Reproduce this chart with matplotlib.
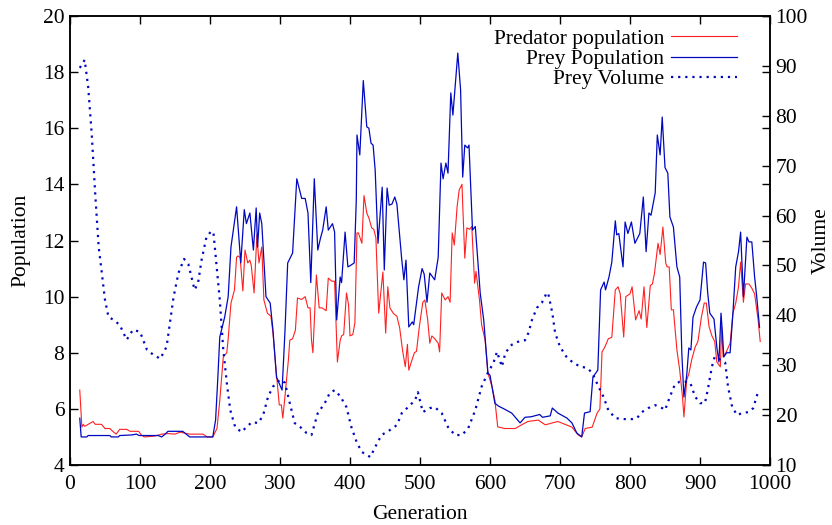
import numpy as np
import matplotlib.pyplot as plt

plt.rcParams['font.family'] = ['Liberation Serif', 'DejaVu Serif']
fs = 15.5

# predator population (left axis)
pred_gen = [14, 17, 19, 21, 24, 33, 36, 45, 50, 57, 61, 66, 71, 81, 86, 98, 102, 106, 121, 131, 140, 150, 157,
            171, 174, 190, 196, 204, 210, 214, 219, 224, 226, 230, 235, 238, 240, 243, 247, 250, 254, 257, 259,
            263, 267, 270, 274, 277, 282, 287, 290, 294, 299, 302, 304, 308, 312, 314, 318, 322, 325, 331, 336,
            340, 343, 345, 347, 352, 356, 360, 363, 366, 369, 374, 378, 380, 382, 386, 388, 391, 395, 398, 400,
            404, 407, 410, 412, 417, 420, 424, 427, 431, 434, 437, 441, 447, 451, 454, 457, 462, 467, 471, 475,
            479, 482, 484, 488, 492, 495, 499, 504, 507, 511, 514, 517, 521, 526, 528, 531, 536, 540, 543, 546,
            549, 553, 556, 560, 561, 564, 567, 571, 574, 578, 580, 585, 588, 593, 597, 603, 607, 611, 621, 636,
            643, 654, 669, 679, 689, 697, 707, 717, 726, 731, 736, 746, 753, 757, 760, 764, 769, 774, 779, 783,
            786, 791, 794, 800, 803, 808, 813, 816, 820, 824, 829, 832, 835, 840, 843, 847, 851, 853, 856, 859,
            862, 867, 871, 875, 877, 881, 884, 888, 893, 897, 902, 906, 909, 913, 917, 921, 924, 929, 931, 933,
            937, 943, 947, 951, 955, 958, 962, 965, 970, 974, 978, 983, 986]
pred_pop = [6.67, 5.35, 5.45, 5.38, 5.42, 5.55, 5.45, 5.45, 5.3, 5.3, 5.2, 5.1, 5.27, 5.27, 5.2, 5.2, 5.07, 5.0,
            5.03, 5.1, 5.12, 5.1, 5.17, 5.1, 5.1, 5.1, 5.0, 5.0, 5.3, 6.3, 7.85, 8.0, 8.5, 9.77, 10.24, 11.4,
            11.45, 11.4, 10.2, 11.66, 11.2, 11.3, 11.1, 10.13, 12.2, 11.2, 11.77, 9.88, 9.41, 9.3, 8.7, 7.5,
            6.14, 6.14, 5.67, 6.67, 7.74, 8.45, 8.5, 8.8, 9.95, 9.9, 10.0, 9.6, 9.6, 8.45, 8.0, 10.77, 9.6, 9.6,
            9.55, 9.5, 10.66, 10.55, 10.55, 9.06, 7.67, 8.45, 8.6, 8.65, 10.13, 9.7, 8.6, 8.65, 9.06, 12.27,
            12.27, 11.9, 13.6, 12.98, 12.8, 12.45, 12.4, 12.1, 9.41, 10.88, 8.7, 10.35, 9.6, 9.4, 9.3, 8.88,
            8.1, 7.5, 8.3, 7.38, 7.7, 8.0, 8.05, 8.92, 9.8, 9.88, 9.17, 8.34, 8.6, 8.5, 8.34, 8.03, 10.13, 9.88,
            10.0, 9.8, 12.27, 11.84, 13.2, 13.8, 14.0, 13.3, 11.37, 12.45, 12.4, 12.5, 10.48, 10.9, 9.88, 9.0,
            8.45, 7.28, 6.78, 6.3, 5.36, 5.3, 5.3, 5.4, 5.55, 5.6, 5.43, 5.5, 5.55, 5.45, 5.35, 5.07, 5.0, 5.3,
            5.35, 5.85, 6.0, 8.03, 8.2, 8.5, 8.55, 10.24, 10.35, 10.1, 8.56, 10.0, 10.1, 10.35, 9.17, 9.5, 9.2,
            10.35, 8.9, 10.4, 10.45, 10.84, 11.9, 11.5, 12.48, 11.2, 11.06, 11.06, 9.53, 9.53, 8.1, 7.38, 6.42,
            5.71, 7.03, 7.24, 7.74, 8.2, 8.4, 9.27, 9.77, 9.77, 8.92, 8.6, 8.4, 7.67, 7.5, 8.92, 7.85, 8.0, 8.34,
            9.41, 9.77, 10.35, 11.23, 9.8, 10.45, 10.45, 10.3, 10.1, 9.17, 8.4]

# prey population (left axis)
prey_gen = [14, 16, 24, 26, 57, 59, 69, 71, 88, 95, 99, 126, 131, 136, 140, 161, 166, 171, 204, 208, 211, 214,
            221, 226, 230, 238, 244, 249, 252, 257, 262, 266, 268, 271, 274, 280, 286, 290, 295, 303, 307, 311,
            318, 324, 331, 336, 340, 344, 349, 354, 358, 361, 366, 369, 375, 378, 381, 386, 388, 393, 397, 400,
            406, 409, 410, 414, 419, 424, 427, 430, 433, 436, 440, 446, 449, 453, 456, 460, 464, 467, 474, 477,
            480, 484, 489, 491, 498, 503, 506, 510, 514, 521, 526, 530, 533, 537, 540, 544, 547, 554, 558, 561,
            564, 568, 570, 575, 579, 586, 591, 597, 600, 607, 612, 620, 631, 643, 650, 659, 671, 675, 686, 689,
            697, 710, 717, 724, 731, 735, 743, 747, 754, 758, 763, 765, 770, 774, 779, 781, 784, 790, 793, 797,
            802, 807, 811, 814, 819, 823, 827, 830, 836, 839, 843, 846, 850, 854, 857, 862, 867, 871, 874, 877,
            881, 884, 887, 890, 895, 900, 905, 908, 911, 914, 920, 924, 927, 930, 932, 934, 938, 943, 947, 951,
            955, 958, 962, 967, 970, 974, 978, 981, 985]
prey_pop = [5.67, 5.0, 5.0, 5.05, 5.05, 5.0, 5.0, 5.05, 5.07, 5.1, 5.05, 5.05, 5.0, 5.1, 5.2, 5.2, 5.1, 5.0,
            5.0, 5.6, 7.0, 8.56, 9.27, 10.0, 11.77, 13.2, 11.2, 13.1, 12.6, 12.98, 11.66, 13.16, 11.77, 12.98,
            12.6, 10.0, 9.77, 8.8, 7.13, 6.67, 8.7, 11.2, 11.55, 14.2, 13.5, 13.5, 12.98, 10.5, 14.2, 11.66,
            12.1, 12.37, 13.2, 12.37, 12.6, 12.3, 9.17, 10.7, 10.5, 12.3, 11.06, 11.1, 11.2, 13.44, 15.76,
            15.05, 17.7, 16.05, 16.0, 15.47, 15.4, 14.5, 11.9, 13.9, 10.95, 13.87, 13.26, 13.3, 13.55, 13.3,
            11.3, 10.6, 11.3, 8.92, 9.1, 9.0, 10.35, 11.0, 10.8, 9.8, 10.84, 10.6, 11.4, 14.76, 14.2, 14.76,
            14.4, 17.26, 16.47, 18.68, 17.36, 14.26, 15.4, 15.3, 15.4, 12.37, 12.5, 10.13, 9.17, 7.28, 7.2,
            6.2, 6.1, 6.0, 5.85, 5.5, 5.7, 5.72, 5.8, 5.7, 5.75, 6.03, 5.85, 5.67, 5.5, 5.14, 5.0, 5.85, 5.9,
            7.13, 7.38, 10.24, 10.52, 10.24, 10.7, 11.23, 12.7, 12.2, 12.25, 11.06, 12.66, 12.25, 12.66, 11.9,
            12.1, 12.25, 13.55, 11.6, 12.98, 12.9, 13.7, 15.76, 15.05, 16.4, 14.6, 14.4, 12.84, 12.48, 11.06,
            10.7, 8.0, 6.42, 7.2, 8.17, 8.1, 9.27, 9.63, 9.88, 11.23, 11.2, 10.13, 9.41, 9.2, 8.2, 7.67, 9.41,
            8.7, 7.85, 8.0, 8.0, 9.41, 11.06, 11.6, 12.3, 10.0, 12.12, 11.95, 11.95, 10.7, 10.0, 8.9]

# prey volume (right axis)
vol_gen = [14, 21, 26, 31, 36, 41, 45, 50, 55, 62, 71, 81, 90, 100, 110, 119, 129, 138, 148, 155, 163, 169,
           178, 183, 188, 195, 202, 205, 209, 214, 219, 224, 229, 236, 245, 252, 260, 269, 276, 283, 290, 300,
           307, 314, 321, 329, 338, 345, 354, 364, 371, 378, 386, 395, 402, 410, 417, 429, 436, 445, 457, 467,
           474, 483, 493, 497, 504, 514, 521, 531, 540, 550, 560, 569, 579, 588, 597, 605, 610, 617, 622, 631,
           640, 650, 655, 660, 667, 674, 681, 683, 689, 693, 700, 710, 719, 729, 738, 746, 755, 762, 769, 779,
           790, 803, 810, 817, 826, 836, 846, 850, 857, 864, 871, 879, 886, 893, 900, 907, 911, 917, 921, 929,
           936, 940, 946, 953, 960, 969, 976, 983]
vol = [89.6, 91.2, 85.8, 76.5, 64.5, 53.7, 49.1, 43.1, 39.7, 39.1, 38.1, 35.1, 37.1, 36.7, 33.1, 32.1, 31.3,
       33.7, 43.7, 48.5, 51.3, 50.3, 45.1, 46.5, 51.1, 55.7, 56.9, 56.5, 50.5, 43.1, 33.1, 26.5, 21.0, 17.6,
       16.6, 17.6, 18.6, 18.4, 20.0, 23.7, 25.7, 27.1, 26.5, 22.4, 18.4, 17.6, 16.4, 16.0, 20.4, 22.4, 24.4,
       25.0, 23.8, 21.6, 17.6, 14.4, 12.6, 11.6, 13.6, 16.0, 17.0, 18.0, 20.4, 21.6, 23.0, 24.6, 20.6, 21.4,
       21.6, 20.4, 17.6, 16.0, 16.0, 17.4, 21.0, 25.7, 28.5, 30.5, 32.7, 29.7, 32.5, 34.1, 34.7, 35.0, 36.5,
       39.1, 41.5, 42.5, 44.5, 44.5, 40.5, 36.5, 33.7, 31.5, 30.5, 29.7, 29.5, 28.5, 25.7, 23.7, 21.0, 19.4,
       19.2, 19.2, 19.4, 20.6, 21.4, 22.0, 21.4, 21.0, 23.7, 26.1, 26.7, 26.7, 26.5, 23.7, 22.4, 22.4, 25.0,
       29.7, 31.7, 31.1, 30.5, 25.7, 21.6, 20.0, 20.4, 20.6, 21.4, 24.7]

red = '#ff2020'
blue = '#0008c0'

fig = plt.figure(figsize=(8.32, 5.25), dpi=100)
ax = fig.add_axes([0.0841, 0.1143, 0.8414, 0.8552])
ax2 = ax.twinx()

l1, = ax.plot(pred_gen, pred_pop, color=red, lw=0.8, label='Predator population')
l2, = ax.plot(prey_gen, prey_pop, color=blue, lw=0.9, label='Prey Population')
l3, = ax2.plot(vol_gen, vol, color=blue, lw=1.6, ls=(0, (1, 2.2)), label='Prey Volume')

ax.set_xlim(0, 1000)
ax.set_ylim(4, 20)
ax2.set_ylim(10, 100)
ax.set_xticks(np.arange(0, 1001, 100))
ax.set_yticks(np.arange(4, 21, 2))
ax2.set_yticks(np.arange(10, 101, 10))

ax.tick_params(direction='in', length=6, width=1, top=True, right=True, labelsize=fs, pad=4)
ax.tick_params(axis='x', pad=7)
ax2.tick_params(direction='in', length=6, width=1, labelsize=fs, pad=4)
for a in (ax, ax2):
    for s in a.spines.values():
        s.set_linewidth(1.1)

ax.set_xlabel('Generation', fontsize=fs, labelpad=8)
ax.set_ylabel('Population', fontsize=fs, labelpad=9)
ax2.set_ylabel('Volume', fontsize=fs, labelpad=3)

leg = ax.legend(handles=[l1, l2, l3], loc='upper right', bbox_to_anchor=(0.972, 1.0),
                frameon=False, markerfirst=False, handlelength=3.1, handletextpad=0.3,
                labelspacing=0.0, fontsize=fs, borderaxespad=0.2)
for t in leg.get_texts():
    t.set_ha('right')
leg._legend_box.align = 'right'

fig.savefig('out.png', dpi=100)
